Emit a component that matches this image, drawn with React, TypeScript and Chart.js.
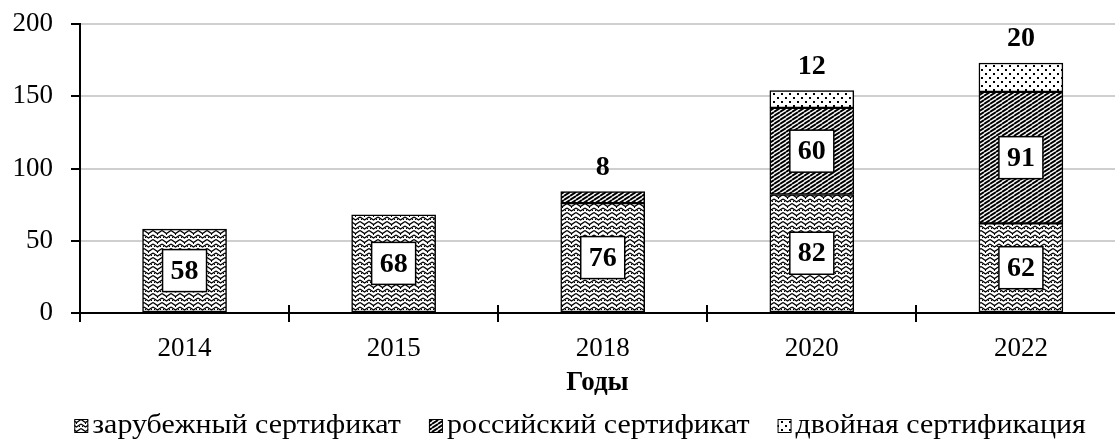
import React, { useEffect, useRef } from 'react';
import { Chart, registerables } from 'chart.js';

Chart.register(...registerables);

const years = ['2014', '2015', '2018', '2020', '2022'];
const foreignCert = [58, 68, 76, 82, 62];
const russianCert = [null, null, 8, 60, 91];
const dualCert = [null, null, null, 12, 20];
const seriesNames = ['зарубежный сертификат', 'российский сертификат', 'двойная сертификация'];
const yMin = 0;
const yMax = 200;
const yStep = 50;
const axisTitle = 'Годы';

const SERIF = '"Liberation Serif", "Times New Roman", serif';

function makeTile(ctx: CanvasRenderingContext2D, w: number, h: number, draw: (g: CanvasRenderingContext2D) => void) {
  const c = document.createElement('canvas');
  c.width = w;
  c.height = h;
  const g = c.getContext('2d')!;
  g.fillStyle = '#fff';
  g.fillRect(0, 0, w, h);
  g.fillStyle = '#000';
  g.strokeStyle = '#000';
  draw(g);
  return ctx.createPattern(c, 'repeat')!;
}

function weave(ctx: CanvasRenderingContext2D) {
  return makeTile(ctx, 9, 9, (g) => {
    g.lineWidth = 1.4;
    g.beginPath();
    g.moveTo(0, 1); g.lineTo(4.5, 4); g.lineTo(9, 1);
    g.moveTo(0, 5.5); g.lineTo(4.5, 8.5); g.lineTo(9, 5.5);
    g.stroke();
    g.fillRect(4, 0, 1, 1);
    g.fillRect(1, 3, 1, 1);
    g.fillRect(7, 3, 1, 1);
  });
}

function stripes(ctx: CanvasRenderingContext2D) {
  return makeTile(ctx, 6, 4, (g) => {
    g.lineWidth = 1.9;
    g.beginPath();
    for (const k of [-4, 0, 4]) {
      g.moveTo(0, 4 + k);
      g.lineTo(6, k);
    }
    g.stroke();
  });
}

function dots(ctx: CanvasRenderingContext2D) {
  return makeTile(ctx, 8, 8, (g) => {
    g.fillRect(1, 1, 2, 2);
    g.fillRect(5, 5, 2, 2);
  });
}

export default function App() {
  const ref = useRef<HTMLCanvasElement>(null);

  useEffect(() => {
    const canvas = ref.current!;
    const ctx = canvas.getContext('2d')!;
    const patterns = [weave(ctx), stripes(ctx), dots(ctx)];
    const series = [foreignCert, russianCert, dualCert];

    const datasets = series.map((vals, si) => ({
      label: seriesNames[si],
      data: vals.map((v, i) => ({ x: i, y: v })),
      backgroundColor: patterns[si],
      borderColor: '#000',
      borderWidth: 1.5,
      borderSkipped: false as const,
      barThickness: 84,
    }));

    const labelPlugin = {
      id: 'valueLabels',
      afterDatasetsDraw(chart: any) {
        const c = chart.ctx;
        c.save();
        c.font = `bold 28px ${SERIF}`;
        c.textAlign = 'center';
        c.textBaseline = 'middle';
        const tops: number[] = [];
        chart.data.datasets.forEach((ds: any, di: number) => {
          const meta = chart.getDatasetMeta(di);
          meta.data.forEach((bar: any, i: number) => {
            if (ds.data[i].y == null) return;
            tops[i] = tops[i] == null ? bar.y : Math.min(tops[i], bar.y);
          });
        });
        chart.data.datasets.forEach((ds: any, di: number) => {
          const meta = chart.getDatasetMeta(di);
          meta.data.forEach((bar: any, i: number) => {
            const v = ds.data[i].y;
            if (v == null) return;
            const h = bar.base - bar.y;
            const txt = String(v);
            if (h >= 35) {
              const cy = (bar.base + bar.y) / 2;
              const bw = 44;
              const bh = 42;
              c.fillStyle = '#fff';
              c.fillRect(bar.x - bw / 2, cy - bh / 2, bw, bh);
              c.lineWidth = 1.5;
              c.strokeStyle = '#000';
              c.strokeRect(bar.x - bw / 2, cy - bh / 2, bw, bh);
              c.fillStyle = '#000';
              c.fillText(txt, bar.x, cy + 1);
            } else {
              c.fillStyle = '#000';
              c.fillText(txt, bar.x, tops[i] - 24);
            }
          });
        });
        c.restore();
      },
    };

    const extrasPlugin = {
      id: 'axisExtras',
      afterDraw(chart: any) {
        const c = chart.ctx;
        const xs = chart.scales.x;
        const area = chart.chartArea;
        c.save();
        c.strokeStyle = '#000';
        c.lineWidth = 2;
        c.beginPath();
        for (let i = 0; i < years.length - 1; i++) {
          const px = Math.round(xs.getPixelForValue(i + 0.5));
          c.moveTo(px, area.bottom - 8);
          c.lineTo(px, area.bottom);
        }
        c.moveTo(area.left, area.bottom);
        c.lineTo(area.left, area.bottom + 9);
        c.stroke();

        // legend
        c.font = `28px ${SERIF}`;
        c.textBaseline = 'alphabetic';
        c.textAlign = 'left';
        const sx = 1.07;
        const box = 14;
        const gapIcon = 4;
        const gapItem = 28;
        const widths = seriesNames.map((n) => c.measureText(n).width * sx);
        const total = widths.reduce((a, b) => a + b, 0) + seriesNames.length * (box + gapIcon) + gapItem * (seriesNames.length - 1);
        let x = 580 - total / 2;
        const baseline = 433;
        seriesNames.forEach((n, si) => {
          c.fillStyle = patterns[si];
          c.fillRect(x, baseline - box, box, box);
          c.lineWidth = 1;
          c.strokeStyle = '#000';
          c.strokeRect(x + 0.5, baseline - box + 0.5, box - 1, box - 1);
          c.fillStyle = '#000';
          c.save();
          c.translate(x + box + gapIcon, baseline);
          c.scale(sx, 1);
          c.fillText(n, 0, 0);
          c.restore();
          x += box + gapIcon + widths[si] + gapItem;
        });
        c.restore();
      },
    };

    const chart = new Chart(canvas, {
      type: 'bar',
      data: { datasets },
      plugins: [labelPlugin, extrasPlugin],
      options: {
        animation: false,
        responsive: true,
        maintainAspectRatio: false,
        layout: { padding: { top: 24, right: 0, left: 0, bottom: 0 } },
        plugins: {
          legend: { display: false },
          tooltip: { enabled: false },
        },
        scales: {
          x: {
            type: 'linear',
            min: -0.5,
            max: 4.45,
            offset: false,
            stacked: true,
            afterBuildTicks: (scale: any) => {
              scale.ticks = years.map((_, i) => ({ value: i }));
            },
            afterFit: (scale: any) => {
              scale.height = 130;
              scale.paddingLeft = 0;
              scale.paddingRight = 0;
            },
            ticks: {
              callback: (v: any) => years[v],
              font: { family: SERIF, size: 27 },
              color: '#000',
              padding: 11,
              maxRotation: 0,
              autoSkip: false,
            },
            grid: {
              offset: true,
              drawOnChartArea: false,
              tickLength: 9,
              tickColor: '#000',
              lineWidth: 2,
            },
            border: { color: '#000', width: 2 },
            title: {
              display: true,
              text: axisTitle,
              font: { family: SERIF, size: 27, weight: 'bold' },
              color: '#000',
              padding: { top: 0, bottom: 44 },
            },
          },
          y: {
            min: yMin,
            max: yMax,
            stacked: true,
            afterFit: (scale: any) => {
              scale.width = 80;
              scale.paddingTop = 0;
              scale.paddingBottom = 0;
            },
            ticks: {
              stepSize: yStep,
              font: { family: SERIF, size: 27 },
              color: '#000',
              padding: 18,
            },
            grid: {
              color: '#cfcfcf',
              lineWidth: 2,
              tickColor: '#000',
              tickLength: 9,
            },
            border: { color: '#000', width: 2 },
          },
        },
      } as any,
    });

    return () => chart.destroy();
  }, []);

  return (
    <div style={{ position: 'absolute', left: 0, top: 0, width: 1115, height: 443 }}>
      <canvas ref={ref} />
    </div>
  );
}
